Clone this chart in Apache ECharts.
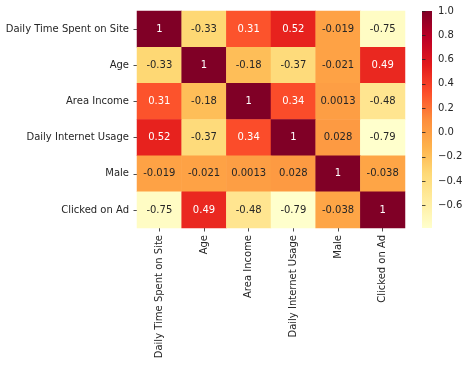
<!DOCTYPE html>
<html>
<head>
<meta charset="utf-8">
<script src="https://cdn.jsdelivr.net/npm/echarts@6/dist/echarts.min.js"></script>
<style>html,body{margin:0;padding:0;background:#fff}#c{width:470px;height:365px}</style>
</head>
<body>
<div id="c"></div>
<script>
var categories = ['Daily Time Spent on Site', 'Age', 'Area Income', 'Daily Internet Usage', 'Male', 'Clicked on Ad'];
var row0 = [1, -0.3315, 0.3110, 0.5187, -0.0190, -0.7481];
var row1 = [-0.3315, 1, -0.1826, -0.3672, -0.0210, 0.4925];
var row2 = [0.3110, -0.1826, 1, 0.3375, 0.0013, -0.4763];
var row3 = [0.5187, -0.3672, 0.3375, 1, 0.0280, -0.7865];
var row4 = [-0.0190, -0.0210, 0.0013, 0.0280, 1, -0.0380];
var row5 = [-0.7481, 0.4925, -0.4763, -0.7865, -0.0380, 1];
var colorbarTicks = [-0.6, -0.4, -0.2, 0.0, 0.2, 0.4, 0.6, 0.8, 1.0];
var ylorrd = ['#ffffcc', '#ffeda0', '#fed976', '#feb24c', '#fd8d3c', '#fc4e2a', '#e31a1c', '#bd0026', '#800026'];

var rows = [row0, row1, row2, row3, row4, row5];
var vmin = Infinity, vmax = -Infinity;
var data = [];
rows.forEach(function (r, i) {
  r.forEach(function (v, j) {
    vmin = Math.min(vmin, v); vmax = Math.max(vmax, v);
    data.push({
      value: [j, i, v],
      label: { color: v > 0.2 ? '#ffffff' : '#262626' }
    });
  });
});
var FONT = 'DejaVu Sans';
var CB = { left: 422, top: 11, width: 10, height: 217 };
var stops = ylorrd.slice().reverse().map(function (c, i, a) {
  return { offset: i / (a.length - 1), color: c };
});
var chart = echarts.init(document.getElementById('c'), null, { renderer: 'canvas' });
chart.setOption({
  animation: false,
  backgroundColor: '#ffffff',
  grid: [
    { left: 137, top: 11, width: 268, height: 217 },
    { left: CB.left, top: CB.top, width: CB.width, height: CB.height }
  ],
  graphic: [{
    type: 'rect', left: CB.left, top: CB.top, silent: true, z: 0,
    shape: { width: CB.width, height: CB.height },
    style: { fill: new echarts.graphic.LinearGradient(0, 0, 0, 1, stops) }
  }],
  xAxis: [
    {
      type: 'category', gridIndex: 0, data: categories, position: 'bottom',
      axisLine: { show: false },
      axisTick: { show: true, alignWithLabel: true, length: 3.5, lineStyle: { color: '#222', width: 0.8 } },
      axisLabel: { rotate: 90, interval: 0, fontFamily: FONT, fontSize: 10, color: '#262626', margin: 7 },
      splitLine: { show: false }
    },
    { type: 'value', gridIndex: 1, show: false, min: 0, max: 1 }
  ],
  yAxis: [
    {
      type: 'category', gridIndex: 0, data: categories, inverse: true,
      axisLine: { show: false },
      axisTick: { show: true, alignWithLabel: true, length: 3.5, lineStyle: { color: '#222', width: 0.8 } },
      axisLabel: { interval: 0, fontFamily: FONT, fontSize: 10, color: '#262626', margin: 8 },
      splitLine: { show: false }
    },
    {
      type: 'value', gridIndex: 1, position: 'right', min: vmin, max: vmax,
      axisLine: { show: false },
      splitLine: { show: false },
      axisTick: { show: true, length: 3.5, customValues: colorbarTicks, lineStyle: { color: '#222', width: 0.8 } },
      axisLabel: {
        customValues: colorbarTicks, fontFamily: FONT, fontSize: 10, color: '#262626', margin: 6,
        formatter: function (v) { return v.toFixed(1).replace('-', '\u2212'); }
      }
    }
  ],
  visualMap: {
    type: 'continuous', show: false, min: vmin, max: vmax,
    seriesIndex: 0, inRange: { color: ylorrd }
  },
  series: [{
    type: 'heatmap', xAxisIndex: 0, yAxisIndex: 0, data: data,
    label: {
      show: true, fontFamily: FONT, fontSize: 10,
      formatter: function (p) { return String(Number(p.value[2].toPrecision(2))); }
    },
    itemStyle: { borderWidth: 0 },
    emphasis: { disabled: true }
  }]
});
</script>
</body>
</html>
